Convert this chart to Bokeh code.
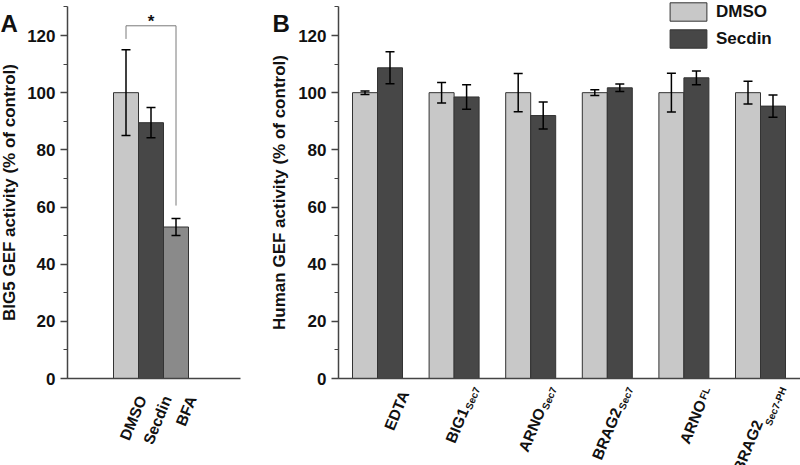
import math
import numpy as np
from bokeh.plotting import figure
from bokeh.models import (ColumnDataSource, Whisker, TeeHead, Label,
                          Legend, LegendItem, FixedTicker, Range1d)
from bokeh.layouts import row
from bokeh.embed import file_html
from bokeh.resources import INLINE
from bokeh.core.properties import value

# ---------------- data ----------------
a_cats = ["DMSO", "Secdin", "BFA"]
a_vals = [100.0, 89.5, 53.0]
a_errs = [15.0, 5.3, 3.0]

b_cats = ["EDTA", "BIG1", "ARNO", "BRAG2", "ARNO", "BRAG2"]
b_sups = ["", "Sec7", "Sec7", "Sec7", "FL", "Sec7-PH"]
b_dmso = [100.0, 100.0, 100.0, 100.0, 100.0, 100.0]
b_dmso_err = [0.6, 3.6, 6.7, 1.0, 6.8, 4.0]
b_secdin = [108.7, 98.5, 92.0, 101.7, 105.2, 95.3]
b_secdin_err = [5.6, 4.3, 4.7, 1.3, 2.4, 3.9]

series = ["DMSO", "Secdin"]
y_ticks = [0, 20, 40, 60, 80, 100, 120]
y_minor = list(range(0, 131, 10))
a_label = "BIG5 GEF activity (% of control)"
b_label = "Human GEF activity (% of control)"

# ---------------- style / layout ----------------
FONT = "Liberation Sans"
C_DMSO = "#c8c8c8"
C_SEC = "#474747"
C_BFA = "#8a8a8a"
C_EDGE = "#333333"
C_AXIS = "#444444"
C_TEXT = "#111111"
FS = "17px"
CAT_FS = "15.5px"
SUP_FS = 10
TOTAL_W = 800
H = 465
Y_MAX = 130
Y0_PX = 378.0                     # canvas px of y = 0
PPY = 343.0 / 120.0               # px per y unit
# angle handed to the text glyph (this renderer shows it as ~45 degrees)
ANG_REQ = math.radians(67.5)
ANG = math.radians(45)            # slant used for the label layout
ca, sa = math.cos(ANG), math.sin(ANG)

# Arial bold advance widths (per 1000 em) for superscript layout
CW = {"S": 667, "e": 556, "c": 556, "7": 556, "-": 333, "P": 667, "H": 722,
      "F": 611, "L": 611}


def text_w(s, size):
    return sum(CW.get(ch, 556) for ch in s) / 1000.0 * size


def make_fig(width, x_origin_px, ppx):
    p = figure(width=width, height=H, output_backend="svg",
               toolbar_location=None,
               x_range=Range1d(-x_origin_px / ppx, (width - x_origin_px) / ppx),
               y_range=Range1d(-(H - Y0_PX) / PPY, Y0_PX / PPY),
               min_border_left=0, min_border_right=0,
               min_border_top=0, min_border_bottom=0)
    p.outline_line_color = None
    p.xgrid.visible = False
    p.ygrid.visible = False
    p.background_fill_color = "white"
    p.border_fill_color = "white"
    return p


def style_axes(p, axis_x, x_end, label, label_standoff):
    ya = p.yaxis[0]
    ya.fixed_location = axis_x
    ya.bounds = (0, Y_MAX)
    ya.ticker = FixedTicker(ticks=y_ticks, minor_ticks=y_minor)
    ya.axis_line_color = C_AXIS
    ya.axis_line_width = 1.5
    ya.major_tick_line_color = C_AXIS
    ya.major_tick_line_width = 1.5
    ya.minor_tick_line_color = C_AXIS
    ya.minor_tick_line_width = 1.2
    ya.major_tick_out = 7
    ya.major_tick_in = 0
    ya.minor_tick_out = 4
    ya.minor_tick_in = 0
    ya.major_label_standoff = 5
    ya.major_label_text_font = FONT
    ya.major_label_text_font_style = "bold"
    ya.major_label_text_font_size = FS
    ya.major_label_text_color = C_TEXT
    ya.axis_label = label
    ya.axis_label_standoff = label_standoff
    ya.axis_label_text_font = FONT
    ya.axis_label_text_font_style = "bold"
    ya.axis_label_text_font_size = FS
    ya.axis_label_text_color = C_TEXT
    xa = p.xaxis[0]
    xa.fixed_location = 0
    xa.bounds = (axis_x, x_end)
    xa.ticker = FixedTicker(ticks=[])
    xa.axis_line_color = C_AXIS
    xa.axis_line_width = 1.5
    xa.major_tick_out = 0
    xa.major_tick_in = 0
    xa.minor_tick_out = 0
    xa.minor_tick_in = 0
    xa.major_label_text_font_size = "0px"


def whiskers(p, src):
    p.add_layout(Whisker(base="x", upper="upper", lower="lower", source=src,
                         dimension="height", line_color="black", line_width=1.5,
                         upper_head=TeeHead(size=9, line_color="black",
                                            line_width=1.5),
                         lower_head=TeeHead(size=9, line_color="black",
                                            line_width=1.5),
                         level="overlay"))


def rot_labels(p, src, text_col, xo, yo, size):
    # glyph offsets: x right, y down (screen px)
    p.text(x="x", y="y", text=text_col, source=src,
           x_offset=xo, y_offset=yo, angle=ANG_REQ,
           text_align="right", text_baseline="alphabetic",
           text_font=value(FONT), text_font_style="bold",
           text_font_size=value(size), text_color=C_TEXT)


# ================= Panel A =================
A_W = 262
A_PPX = 25.0                      # px per bar
A_X0 = 125.5                      # canvas px of first bar centre
pa = make_fig(A_W, A_X0, A_PPX)
style_axes(pa, (67 - A_X0) / A_PPX, (240 - A_X0) / A_PPX, a_label, 5)

ax = np.arange(len(a_cats))
src_a = ColumnDataSource(dict(
    x=ax, top=a_vals, cat=a_cats,
    upper=np.array(a_vals) + np.array(a_errs),
    lower=np.array(a_vals) - np.array(a_errs),
    color=[C_DMSO, C_SEC, C_BFA]))
pa.vbar(x="x", top="top", width=1.0, fill_color="color", line_color=C_EDGE,
        line_width=1, source=src_a)
whiskers(pa, src_a)

# significance bracket DMSO vs BFA
br_left = a_vals[0] + a_errs[0] + 3.8
br_top = br_left + 4.6
br_right = a_vals[2] + a_errs[2] + 4.5
pa.line(x=[ax[0], ax[0], ax[2], ax[2]], y=[br_left, br_top, br_top, br_right],
        line_color="#7a7a7a", line_width=1)
pa.add_layout(Label(x=ax[1], y=br_top, text="*", text_align="center",
                    text_baseline="alphabetic", y_offset=4, text_font=FONT,
                    text_font_style="bold", text_font_size=FS,
                    text_color=C_TEXT))

# slanted category labels
QA = (16.0, 18.0)
src_al = ColumnDataSource(dict(x=ax, y=[0] * len(ax), text=a_cats))
rot_labels(pa, src_al, "text", QA[0], QA[1], CAT_FS)

pa.add_layout(Label(x=(0 - A_X0) / A_PPX, y=(Y0_PX - 23.3) / PPY,
                    text="A", text_align="left", text_baseline="alphabetic",
                    text_font=FONT, text_font_style="bold",
                    text_font_size="24px", text_color=C_TEXT))

# ================= Panel B =================
B_W = TOTAL_W - A_W
B_PPX = 76.6                      # px per group
B_X0 = 377.0 - A_W                # px (in figure B) of first group centre
BAR_W = 25.0 / B_PPX
pb = make_fig(B_W, B_X0, B_PPX)
style_axes(pb, (338 - A_W - B_X0) / B_PPX, (B_W - B_X0) / B_PPX, b_label, 6)

bx = np.arange(len(b_cats))
src_d = ColumnDataSource(dict(
    x=bx - BAR_W / 2, top=b_dmso,
    upper=np.array(b_dmso) + np.array(b_dmso_err),
    lower=np.array(b_dmso) - np.array(b_dmso_err)))
src_s = ColumnDataSource(dict(
    x=bx + BAR_W / 2, top=b_secdin,
    upper=np.array(b_secdin) + np.array(b_secdin_err),
    lower=np.array(b_secdin) - np.array(b_secdin_err)))
r_d = pb.vbar(x="x", top="top", width=BAR_W, fill_color=C_DMSO,
              line_color=C_EDGE, line_width=1, source=src_d)
r_s = pb.vbar(x="x", top="top", width=BAR_W, fill_color=C_SEC,
              line_color=C_EDGE, line_width=1, source=src_s)
whiskers(pb, src_d)
whiskers(pb, src_s)

legend = Legend(items=[LegendItem(label=series[0], renderers=[r_d]),
                       LegendItem(label=series[1], renderers=[r_s])],
                location=(670 - A_W - 5, H - 50), orientation="vertical",
                glyph_width=46, glyph_height=23, spacing=4, padding=0,
                margin=0, label_standoff=5, label_height=23,
                label_text_font=FONT, label_text_font_style="bold",
                label_text_font_size=FS, label_text_color=C_TEXT,
                border_line_color=None, background_fill_alpha=0)
pb.add_layout(legend)

# slanted category labels with superscripts (whole label right-aligned)
QB = (27.0, 13.0)
RAISE = 5.5
main_xo, main_yo, sup_xo, sup_yo = [], [], [], []
for sup in b_sups:
    w = text_w(sup, SUP_FS) + (1.0 if sup else 0.0)
    main_xo.append(QB[0] - w * ca)
    main_yo.append(QB[1] + w * sa)
    sup_xo.append(QB[0] - RAISE * sa)
    sup_yo.append(QB[1] - RAISE * ca)
src_bl = ColumnDataSource(dict(x=bx, y=[0] * len(bx), text=b_cats, sup=b_sups,
                               mxo=main_xo, myo=main_yo, sxo=sup_xo, syo=sup_yo))
rot_labels(pb, src_bl, "text", "mxo", "myo", CAT_FS)
rot_labels(pb, src_bl, "sup", "sxo", "syo", f"{SUP_FS}px")

pb.add_layout(Label(x=(272 - A_W - B_X0) / B_PPX, y=(Y0_PX - 23.3) / PPY,
                    text="B", text_align="left", text_baseline="alphabetic",
                    text_font=FONT, text_font_style="bold",
                    text_font_size="24px", text_color=C_TEXT))

layout = row(pa, pb, spacing=0)
open("out.html", "w").write(file_html(layout, INLINE))
